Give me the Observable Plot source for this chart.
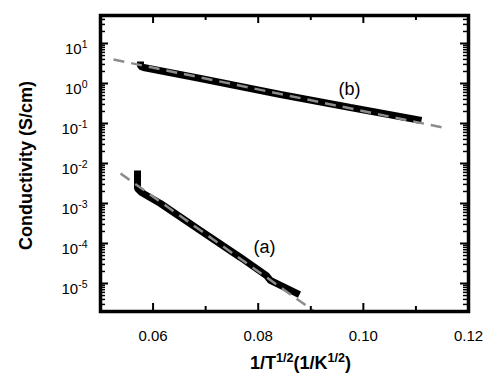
<!DOCTYPE html>
<html><head><meta charset="utf-8">
<script src="https://cdn.jsdelivr.net/npm/d3@7"></script>
<script src="https://cdn.jsdelivr.net/npm/@observablehq/plot@0.6"></script>
<style>body{margin:0;background:#fff;} svg{display:block}</style>
</head><body><div id="chart"></div>
<script>
// tick values
const xMajorTicks = [0.06, 0.08, 0.10, 0.12];
const xMinorTicks = [0.07, 0.09, 0.11];
const yDecades = [-5, -4, -3, -2, -1, 0, 1];
const yMajorTicks = yDecades.map(e => 10 ** e);
const yMinorMultipliers = [2, 3, 4, 5, 6, 7, 8, 9];
const yMinorTicks = [-6, ...yDecades]
  .flatMap(e => yMinorMultipliers.map(m => m * 10 ** e))
  .filter(v => v > 10 ** -5.7 && v < 10 ** 1.7);

// curve (a): measured conductivity
const curveAx = [0.05704, 0.05704, 0.0578, 0.06141, 0.06902, 0.07663, 0.08158, 0.0823, 0.08785];
const curveAy = [6.68e-3, 2.37e-3, 1.88e-3, 1.0e-3, 2.11e-4, 4.47e-5, 1.58e-5, 1.2e-5, 5.3e-6];
// curve (b)
const curveBx = [0.05761, 0.05761, 0.05818, 0.06902, 0.08424, 0.09755, 0.11106];
const curveBy = [3.55, 2.66, 2.51, 1.33, 0.531, 0.251, 0.119];
// fitted lines (dashed)
const fitAx = [0.05381, 0.0907];
const fitAy = [5.62e-3, 2.0e-6];
const fitBx = [0.05247, 0.1160];
const fitBy = [3.98, 0.075];
// curve labels
const labelNames = ["(a)", "(b)"];
const labelX = [0.0812, 0.09736];
const labelY = [8.2e-5, 0.729];

const toRows = (xs, ys) => xs.map((x, i) => ({x, y: ys[i]}));
const curveA = toRows(curveAx, curveAy);
const curveB = toRows(curveBx, curveBy);
const fitA = toRows(fitAx, fitAy);
const fitB = toRows(fitBx, fitBy);
const labels = labelNames.map((t, i) => ({t, x: labelX[i], y: labelY[i]}));

const font = "'Liberation Sans', Arial, Helvetica, sans-serif";

const W = 500, H = 384, mL = 100, mR = 32, mT = 15, mB = 73;
const frameW = W - mL - mR, frameH = H - mT - mB;

// inward ticks as short rules inset from the far side of the frame
const yTicks = (values, side, len, sw) => Plot.ruleY(values, {
  y: d => d, stroke: "black", strokeWidth: sw,
  ...(side === "left" ? {insetRight: frameW - len} : {insetLeft: frameW - len})
});
const xTicks = (values, side, len, sw) => Plot.ruleX(values, {
  x: d => d, stroke: "black", strokeWidth: sw,
  ...(side === "bottom" ? {insetTop: frameH - len} : {insetBottom: frameH - len})
});

const plot = Plot.plot({
  width: W,
  height: H,
  marginLeft: mL,
  marginRight: mR,
  marginTop: mT,
  marginBottom: mB,
  style: {fontFamily: font, background: "white", color: "black"},
  x: {type: "linear", domain: [0.05, 0.12], axis: null},
  y: {type: "log", domain: [10 ** -5.7, 10 ** 1.7], axis: null},
  marks: [
    Plot.line(curveA, {x: "x", y: "y", stroke: "black", strokeWidth: 7, strokeLinejoin: "miter", strokeLinecap: "butt", clip: true}),
    Plot.line(curveB, {x: "x", y: "y", stroke: "black", strokeWidth: 7, strokeLinejoin: "miter", strokeLinecap: "butt", clip: true}),
    Plot.line(fitA, {x: "x", y: "y", stroke: "#8c8c8c", strokeWidth: 2.5, strokeDasharray: "11,7", strokeLinecap: "butt", clip: true}),
    Plot.line(fitB, {x: "x", y: "y", stroke: "#8c8c8c", strokeWidth: 2.5, strokeDasharray: "11,7", strokeLinecap: "butt", clip: true}),
    Plot.frame({stroke: "black", strokeWidth: 3.5}),
    // inward ticks
    xTicks(xMajorTicks, "bottom", 8, 2),
    xTicks(xMinorTicks, "bottom", 5, 2),
    xTicks(xMajorTicks, "top", 8, 2),
    xTicks(xMinorTicks, "top", 5, 2),
    yTicks(yMajorTicks, "left", 8, 2),
    yTicks(yMinorTicks, "left", 5, 1.5),
    yTicks(yMajorTicks, "right", 8, 2),
    yTicks(yMinorTicks, "right", 5, 1.5),
    // tick labels
    Plot.text(xMajorTicks, {x: d => d, frameAnchor: "bottom", text: d => d.toFixed(2), lineAnchor: "bottom", dy: 29, fontSize: 15, fill: "black"}),
    Plot.text(yMajorTicks, {y: d => d, frameAnchor: "left", text: d => `10^{${Math.round(Math.log10(d))}}`, textAnchor: "end", lineAnchor: "bottom", dx: -13, dy: 10, fontSize: 15, fill: "black"}),
    // axis titles
    Plot.text(["Conductivity (S/cm)"], {frameAnchor: "left", text: d => d, rotate: -90, dx: -69, dy: 2, lineAnchor: "bottom", textAnchor: "middle", fontSize: 18, fontWeight: "bold", fill: "black"}),
    Plot.text(["1/T^{1/2}(1/K^{1/2})"], {frameAnchor: "bottom", text: d => d, dx: 16, dy: 57, lineAnchor: "bottom", textAnchor: "middle", fontSize: 18, fontWeight: "bold", fill: "black"}),
    // curve labels
    Plot.text(labels, {x: "x", y: "y", text: "t", fontSize: 18, lineAnchor: "middle", fill: "black"})
  ]
});

document.getElementById("chart").appendChild(plot);

// turn ^{...} into real superscript tspans
const NS = "http://www.w3.org/2000/svg";
plot.querySelectorAll("text").forEach(t => {
  const s = t.textContent;
  if (!s.includes("^{")) return;
  const base = parseFloat(getComputedStyle(t).fontSize) || 15;
  const supSize = base * 0.7;
  const raise = base * 0.37;
  const parts = s.split(/(\^\{[^}]*\})/).filter(p => p.length);
  t.textContent = "";
  let raised = false;
  parts.forEach(p => {
    const span = document.createElementNS(NS, "tspan");
    if (p.startsWith("^{")) {
      span.textContent = p.slice(2, -1);
      span.setAttribute("font-size", supSize);
      span.setAttribute("dy", -raise);
      raised = true;
    } else {
      span.textContent = p;
      if (raised) span.setAttribute("dy", raise);
      raised = false;
    }
    t.appendChild(span);
  });
});
</script>
</body></html>
